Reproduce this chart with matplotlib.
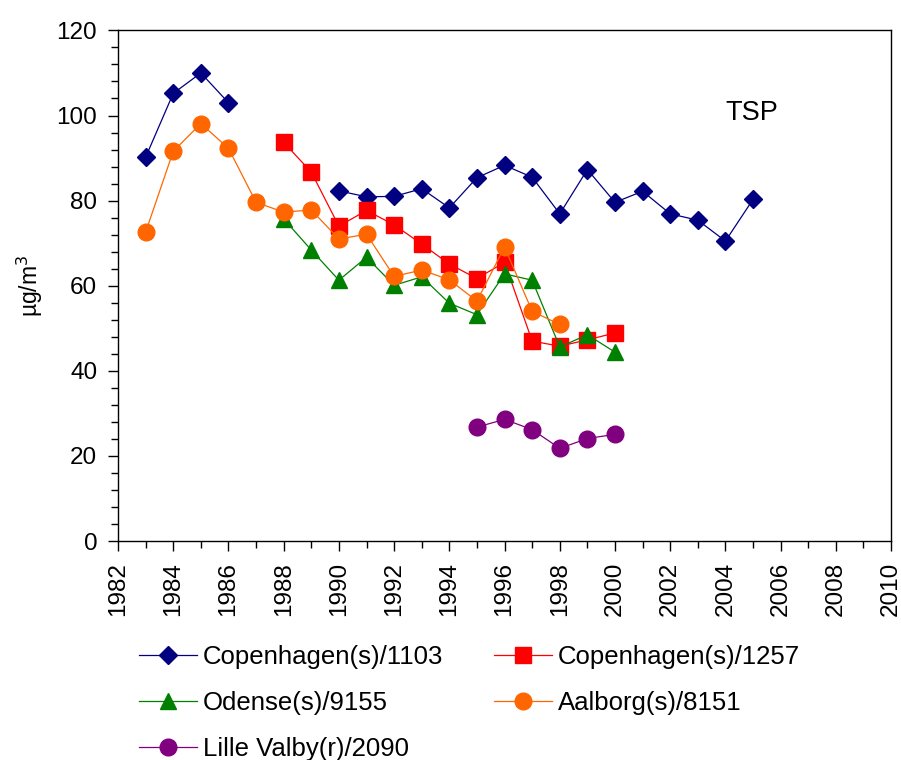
import matplotlib
matplotlib.use("Agg")
import matplotlib.pyplot as plt
from matplotlib.ticker import MultipleLocator

plt.rcParams['font.family'] = ['Liberation Sans', 'DejaVu Sans']

nan = float('nan')

# TSP annual means (µg/m3) per station, nan = no measurement that year
years_cph1103 = [1983, 1984, 1985, 1986, 1987, 1988, 1989, 1990, 1991, 1992, 1993, 1994,
                 1995, 1996, 1997, 1998, 1999, 2000, 2001, 2002, 2003, 2004, 2005]
cph1103 = [90.2, 105.2, 110.0, 103.0, nan, nan, nan, 82.3, 80.9, 81.0, 82.8, 78.3,
           85.4, 88.3, 85.5, 76.9, 87.3, 79.6, 82.2, 76.9, 75.4, 70.5, 80.3]

years_cph1257 = [1988, 1989, 1990, 1991, 1992, 1993, 1994, 1995, 1996, 1997, 1998, 1999, 2000]
cph1257 = [93.7, 86.7, 74.0, 77.7, 74.3, 69.8, 65.1, 61.7, 65.5, 47.0, 45.8, 47.3, 48.9]

years_odense = [1988, 1989, 1990, 1991, 1992, 1993, 1994, 1995, 1996, 1997, 1998, 1999, 2000]
odense = [75.7, 68.4, 61.3, 66.7, 60.1, 62.1, 55.9, 53.2, 62.8, 61.3, 45.6, 48.5, 44.4]

years_aalborg = [1983, 1984, 1985, 1986, 1987, 1988, 1989, 1990, 1991, 1992, 1993, 1994,
                 1995, 1996, 1997, 1998]
aalborg = [72.6, 91.6, 98.1, 92.3, 79.6, 77.3, 77.8, 71.0, 72.1, 62.2, 63.7, 61.4,
           56.4, 69.1, 54.0, 50.9]

years_lille = [1995, 1996, 1997, 1998, 1999, 2000]
lille = [26.8, 28.6, 26.2, 21.8, 24.1, 25.1]

fig = plt.figure(figsize=(9.01, 7.6), dpi=100)
ax = fig.add_axes([0.131, 0.288, 0.858, 0.672])

l1, = ax.plot(years_cph1103, cph1103, color='#000080', marker='D', ms=9.5, lw=0.9,
              label='Copenhagen(s)/1103')
l2, = ax.plot(years_cph1257, cph1257, color='#FF0000', marker='s', ms=11.5, lw=0.9,
              label='Copenhagen(s)/1257')
l3, = ax.plot(years_odense, odense, color='#008000', marker='^', ms=12, lw=0.9,
              label='Odense(s)/9155')
l4, = ax.plot(years_aalborg, aalborg, color='#FF6600', marker='o', ms=12, lw=0.9,
              label='Aalborg(s)/8151')
l5, = ax.plot(years_lille, lille, color='#800080', marker='o', ms=12, lw=0.9,
              label='Lille Valby(r)/2090')

ax.set_xlim(1982, 2010)
ax.set_ylim(0, 120)
ax.xaxis.set_major_locator(MultipleLocator(2))
ax.xaxis.set_minor_locator(MultipleLocator(1))
ax.yaxis.set_major_locator(MultipleLocator(20))
ax.yaxis.set_minor_locator(MultipleLocator(4))
ax.tick_params(which='major', direction='out', length=7, width=1, labelsize=17.5, pad=8)
ax.tick_params(which='minor', direction='out', length=5, width=1)
for lab in ax.get_xticklabels():
    lab.set_rotation(90)

for sp in ax.spines.values():
    sp.set_linewidth(1)

ax.set_ylabel('µg/m$^3$', fontsize=16.5)
ax.yaxis.set_label_coords(-0.095, 0.5)
ax.text(2004, 100.7, 'TSP', fontsize=19.5, ha='left', va='center')

fig.legend([l1, l3, l5, l2, l4],
           [l.get_label() for l in (l1, l3, l5, l2, l4)],
           ncol=2, loc='upper left', bbox_to_anchor=(0.154, 0.151),
           frameon=False, fontsize=18.5, handlelength=2.26, handletextpad=0.25,
           columnspacing=1.95, labelspacing=0.86, borderpad=0, borderaxespad=0)

fig.savefig('out.png', dpi=100)
